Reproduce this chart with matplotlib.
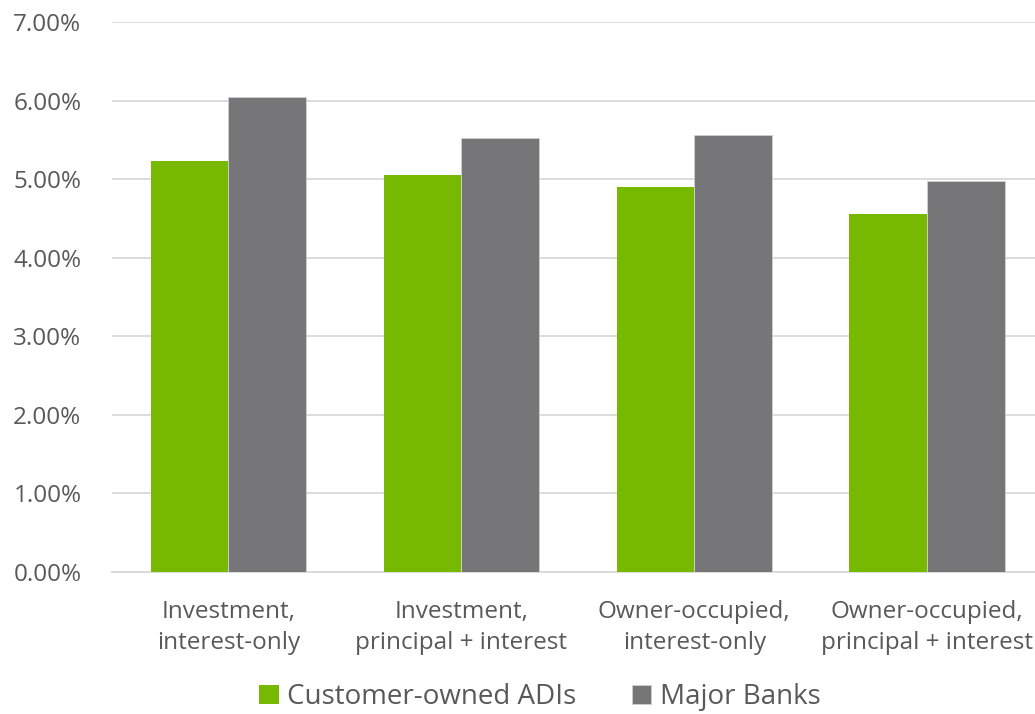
import numpy as np
import matplotlib.pyplot as plt
from matplotlib.ticker import FuncFormatter, MultipleLocator

plt.rcParams['font.family'] = ['Open Sans', 'DejaVu Sans']

categories = ['Investment,\ninterest-only', 'Investment,\nprincipal + interest',
              'Owner-occupied,\ninterest-only', 'Owner-occupied,\nprincipal + interest']
customer_owned = [5.23, 5.05, 4.90, 4.56]
major_banks = [6.05, 5.53, 5.56, 4.98]
series_names = ['Customer-owned ADIs', 'Major Banks']

green = '#76B900'
grey = '#767678'
txt = '#595959'

fig = plt.figure(figsize=(10.35, 7.14), dpi=100)
ax = fig.add_axes([112/1035, 1 - 572/714, 931.5/1035, 550/714])

x = np.arange(len(categories))
w = 1/3
ax.bar(x - w/2, customer_owned, w, color=green, label=series_names[0], zorder=3)
ax.bar(x + w/2, major_banks, w, color=grey, edgecolor='#d0d0d0', linewidth=0.6,
       label=series_names[1], zorder=3)

ax.set_xlim(-0.5, len(categories) - 0.5)
ax.set_ylim(0, 7)
ax.yaxis.set_major_locator(MultipleLocator(1))
ax.yaxis.set_major_formatter(FuncFormatter(lambda v, p: '%.2f%%' % v))
ax.grid(True, axis='y', color='#d9d9d9', linewidth=1.3, zorder=0)
ax.set_xticks(x)
ax.set_xticklabels(categories, linespacing=1.4)
ax.tick_params(axis='both', length=0, labelsize=17.5, colors=txt)
ax.tick_params(axis='x', pad=20)
ax.tick_params(axis='y', pad=22)
for s in ['top', 'right', 'left']:
    ax.spines[s].set_visible(False)
ax.spines['bottom'].set_color('#d9d9d9')
ax.spines['bottom'].set_linewidth(1.3)

leg = fig.legend(loc='center', bbox_to_anchor=(540/1035, 1 - 697/714), ncol=2,
                 frameon=False, fontsize=20, handlelength=0.7, handleheight=0.7,
                 handletextpad=0.3, columnspacing=2.0)
for t in leg.get_texts():
    t.set_color(txt)

fig.savefig('out.png', dpi=100)
